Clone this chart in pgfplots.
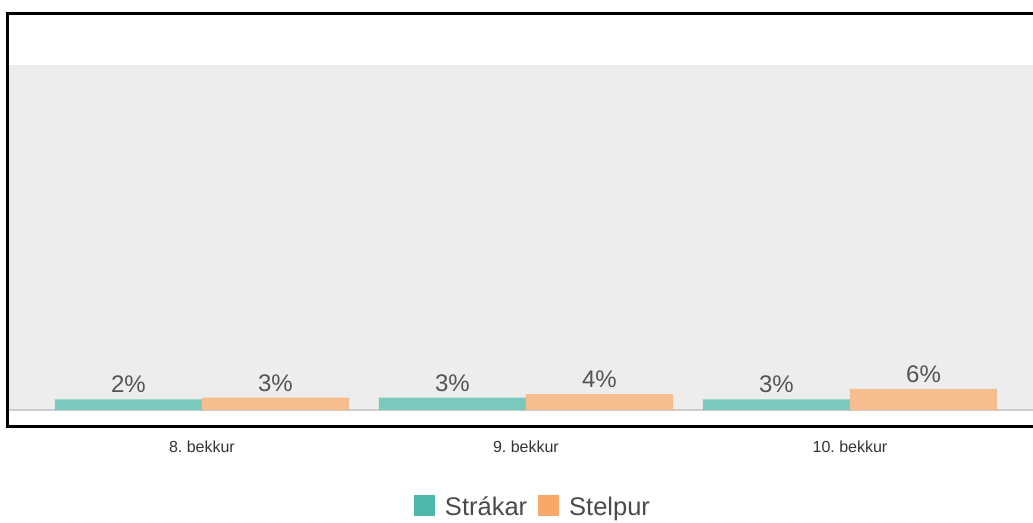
\documentclass[border=0pt]{standalone}
\usepackage{pgfplots}
\pgfplotsset{compat=1.18}
\usepackage{pgfplotstable}
\usepackage{fontspec}
\setmainfont{Liberation Sans}
\frenchspacing
\definecolor{panel}{HTML}{EDEDED}
\definecolor{baseln}{HTML}{CCCCCC}
\definecolor{barteal}{HTML}{7BC9BE}
\definecolor{barorange}{HTML}{F6BE8F}
\definecolor{legteal}{HTML}{4DB8AA}
\definecolor{legorange}{HTML}{F8A868}
\definecolor{labc}{HTML}{555555}
\definecolor{tickc}{HTML}{333333}
\definecolor{legc}{HTML}{4A4A4A}

% x = group position (0,1,2) with bar offset; y = bar height; lab = shown value
\pgfplotstableread{
x y lab
-0.227 3.1 2
0.773 3.6 3
1.773 3.1 3
}\boys
\pgfplotstableread{
x y lab
0.227 3.6 3
1.227 4.6 4
2.227 6.1 6
}\girls

\begin{document}
\frenchspacing
\begin{tikzpicture}
\begin{axis}[
  at={(7.5pt,95.5pt)}, anchor=south west,
  scale only axis, width=1025.5pt, height=412.5pt,
  xmin=-0.6, xmax=2.565, ymin=-4.78, ymax=114.8,
  axis line style={draw=none},
  ytick=\empty,
  xtick={0,1,2},
  xticklabels={8.\ bekkur,9.\ bekkur,10.\ bekkur},
  xtick pos=bottom,
  major tick length=0pt,
  xticklabel style={font=\fontsize{16}{19}\selectfont, text=tickc, yshift=-11pt},
  ybar, bar width=0.454, bar shift=0pt,
  clip=false, set layers,
  nodes near coords={\pgfplotspointmeta\%},
  point meta=explicit symbolic,
  every node near coord/.append style={font=\fontsize{24}{28}\selectfont, text=labc, inner sep=6pt},
  legend columns=2,
  legend style={at={(0.5124,-0.195)}, anchor=center, draw=none, fill=none,
    font=\fontsize{25.5}{30}\selectfont, text=legc,
    /tikz/every even column/.append style={column sep=9pt},
    /tikz/every odd column/.append style={column sep=8pt}},
  legend cell align=left,
]
\fill[panel, on layer=axis background] (axis cs:-0.6,0) rectangle (axis cs:2.565,100);
\draw[baseln, line width=1.5pt, on layer=axis background] (axis cs:-0.6,0) -- (axis cs:2.565,0);
\addplot[draw=none, fill=barteal,
  legend image code/.code={\fill[legteal] (0pt,-8.5pt) rectangle (21pt,12.5pt);}]
  table[x=x, y=y, meta=lab] {\boys};
\addlegendentry{Strákar}
\addplot[draw=none, fill=barorange,
  legend image code/.code={\fill[legorange] (0pt,-8.5pt) rectangle (21pt,12.5pt);}]
  table[x=x, y=y, meta=lab] {\girls};
\addlegendentry{Stelpur}
\draw[line width=3pt, black, line join=miter, on layer=axis foreground]
  (rel axis cs:1,1) -- (rel axis cs:0,1) -- (rel axis cs:0,0) -- (rel axis cs:1,0);
\end{axis}
\pgfresetboundingbox
\useasboundingbox (0,0) rectangle (1033pt,522pt);
\end{tikzpicture}
\end{document}
